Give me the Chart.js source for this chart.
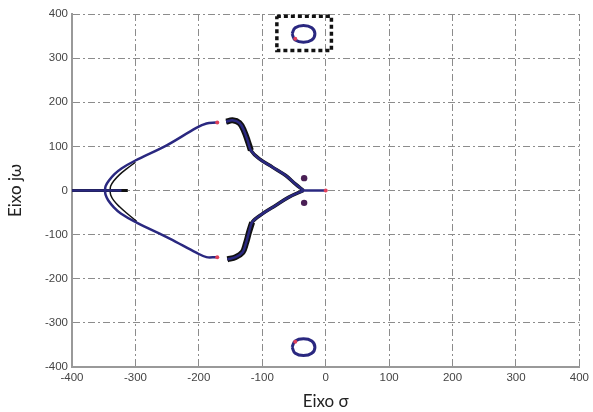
<!DOCTYPE html>
<html>
<head>
<meta charset="utf-8">
<script src="https://cdn.jsdelivr.net/npm/chart.js@4/dist/chart.umd.min.js"></script>
<style>
  html, body { margin: 0; padding: 0; background: #fff; }
  #wrap { width: 593px; height: 412px; }
</style>
</head>
<body>
<div id="wrap"><canvas id="locus"></canvas></div>
<script>
// axis ticks
const sigmaTicks = [-400, -300, -200, -100, 0, 100, 200, 300, 400];
const omegaTicks = [-400, -300, -200, -100, 0, 100, 200, 300, 400];

// real-axis segments
const realLeftSigma = [-400, -322];
const realLeftOmega = [0, 0];
const realLeftBlackSigma = [-400, -312];
const realLeftBlackOmega = [0, 0];
const realRightSigma = [-35, 0];
const realRightOmega = [0, 0];

// outer (left) branches
const upLeftSigma = [-348, -347, -342, -333, -322, -300, -250, -204, -188, -173];
const upLeftOmega = [0, 10, 22, 37, 50, 68, 103, 142, 152, 154];
const lowLeftSigma = [-348, -347, -343, -334, -323, -298, -246, -204, -188, -173];
const lowLeftOmega = [0, -10, -22, -38, -52, -73, -109, -141, -151, -151];
const upInnerSigma = [-340, -339, -334, -325, -314, -300];
const upInnerOmega = [0, 10, 22, 36, 49, 64];
const lowInnerSigma = [-340, -339, -334, -325, -314, -298];
const lowInnerOmega = [0, -10, -23, -37, -51, -70];

// inner (right) branches
const upRightSigma = [-35, -48, -63, -84, -105, -118, -123, -129, -136, -147, -157];
const upRightOmega = [0, 15, 34, 53, 72, 91, 113, 136, 153, 159, 156];
const lowRightSigma = [-35, -58, -79, -100, -116, -121, -126, -131, -142, -155];
const lowRightOmega = [0, -15, -34, -53, -72, -95, -121, -140, -151, -156];
// heavy overlapping part near the branch ends
const upHeavySigma = [-118, -123, -129, -136, -147, -157];
const upHeavyOmega = [91, 113, 136, 153, 159, 156];
const lowHeavySigma = [-116, -121, -126, -131, -142, -155];
const lowHeavyOmega = [-72, -95, -121, -140, -151, -156];

// small loops near +/- 355
const topLoopSigma = [-53, -48, -35, -22, -17, -22, -35, -48, -53];
const topLoopOmega = [355, 369, 374, 369, 355, 341, 336, 341, 355];
const botLoopSigma = [-53, -48, -35, -22, -17, -22, -35, -48, -53];
const botLoopOmega = [-355, -341, -336, -341, -355, -369, -374, -369, -355];

// dotted highlight box
const boxSigma = [-77, 9, 9, -77, -77];
const boxOmega = [395, 395, 317, 317, 395];

// isolated dots and pole marks
const dotSigma = [-34, -34];
const dotOmega = [28, -28];
const poleSigma = [-171, -171, 0, -48, -48];
const poleOmega = [154, -151, 0, 344, -343];

const navy = '#2a2880';

function pts(xs, ys) {
    return xs.map((x, i) => ({ x: x, y: ys[i] }));
}

function line(xs, ys, color, width, tension, extra) {
    return Object.assign({
        data: pts(xs, ys),
        showLine: true,
        borderColor: color,
        backgroundColor: color,
        borderWidth: width,
        pointRadius: 0,
        tension: tension,
        fill: false
    }, extra || {});
}

const datasets = [
    // first datasets are drawn on top
    { data: pts(poleSigma, poleOmega), pointRadius: 2, backgroundColor: '#e0405a', borderWidth: 0 },
    { data: pts(dotSigma, dotOmega), pointRadius: 3.2, backgroundColor: '#4a1f55', borderWidth: 0 },
    line(boxSigma, boxOmega, '#111', 3.5, 0, { borderDash: [4, 3] }),
    line(topLoopSigma, topLoopOmega, navy, 3, 0.45),
    line(botLoopSigma, botLoopOmega, navy, 3, 0.45),
    line(upRightSigma, upRightOmega, navy, 2.5, 0.35),
    line(lowRightSigma, lowRightOmega, navy, 2.5, 0.35),
    line(upLeftSigma, upLeftOmega, navy, 2.5, 0.35),
    line(lowLeftSigma, lowLeftOmega, navy, 2.5, 0.35),
    line(realLeftSigma, realLeftOmega, navy, 2.5, 0),
    line(realRightSigma, realRightOmega, navy, 2.5, 0),
    line(upHeavySigma, upHeavyOmega, '#111', 6, 0.35),
    line(lowHeavySigma, lowHeavyOmega, '#111', 6, 0.35),
    line(upRightSigma, upRightOmega, '#111', 3.5, 0.35),
    line(lowRightSigma, lowRightOmega, '#111', 3.5, 0.35),
    line(upInnerSigma, upInnerOmega, '#111', 1.5, 0.35),
    line(lowInnerSigma, lowInnerOmega, '#111', 1.5, 0.35),
    line(realLeftBlackSigma, realLeftBlackOmega, '#111', 3, 0)
];

const gridDash = [7, 3, 2, 3];
const tickFont = { family: 'Liberation Sans', size: 11.5 };
const titleFont = { family: 'Lato', size: 17 };

new Chart(document.getElementById('locus'), {
    type: 'scatter',
    data: { datasets: datasets },
    options: {
        responsive: true,
        maintainAspectRatio: false,
        animation: false,
        layout: { padding: { top: 14, right: 11, bottom: 0, left: 0 } },
        plugins: {
            legend: { display: false },
            tooltip: { enabled: false }
        },
        scales: {
            x: {
                type: 'linear',
                min: -400,
                max: 400,
                afterBuildTicks: (s) => { s.ticks = sigmaTicks.map(v => ({ value: v })); },
                afterFit: (s) => { s.height = 45; },
                ticks: { color: '#444', font: tickFont, padding: 4, maxRotation: 0 },
                grid: { color: '#8c8c8c', lineWidth: 1, drawTicks: false },
                border: { display: true, color: '#999', width: 2, dash: gridDash },
                title: { display: true, text: 'Eixo σ', color: '#222', font: titleFont, padding: { top: 0, bottom: 0 } }
            },
            y: {
                type: 'linear',
                min: -400,
                max: 400,
                afterBuildTicks: (s) => { s.ticks = omegaTicks.map(v => ({ value: v })); },
                afterFit: (s) => { s.width = 72; },
                ticks: { color: '#444', font: tickFont, padding: 4 },
                grid: { color: '#8c8c8c', lineWidth: 1, drawTicks: false },
                border: { display: true, color: '#999', width: 2, dash: gridDash },
                title: { display: true, text: 'Eixo jω', color: '#222', font: titleFont, padding: { top: 5, bottom: 0 } }
            }
        }
    }
});
</script>
</body>
</html>
